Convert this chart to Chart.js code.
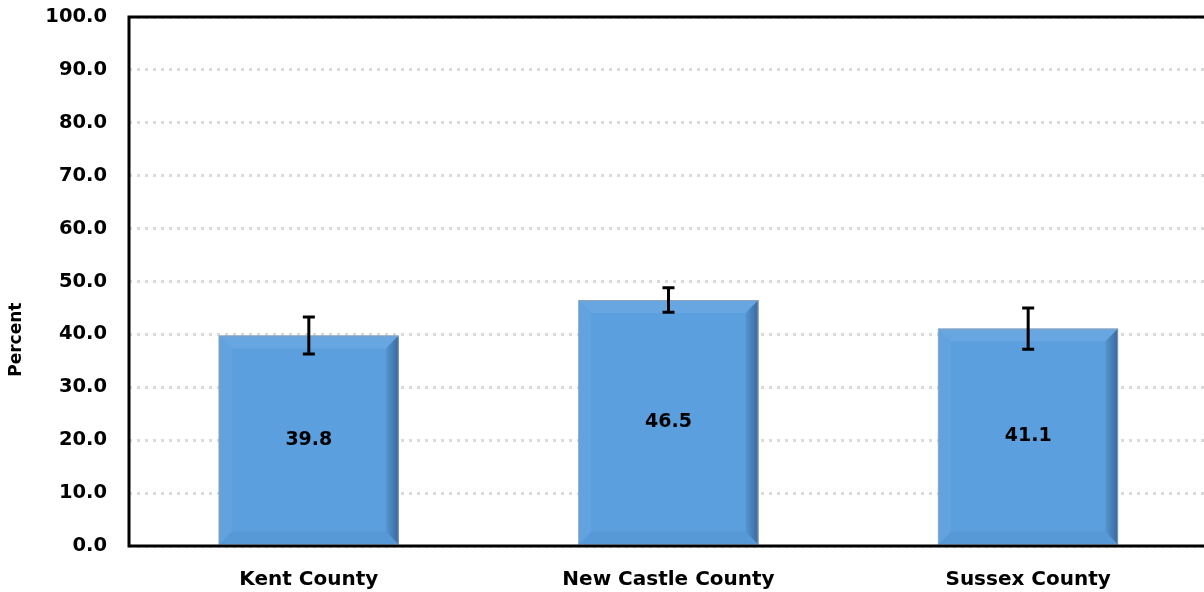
<!DOCTYPE html>
<html>
<head>
<meta charset="utf-8">
<script src="https://cdn.jsdelivr.net/npm/chart.js@4.4.1/dist/chart.umd.min.js"></script>
<style>
  html, body { margin: 0; padding: 0; background: #fff; overflow: hidden; }
  #wrap { width: 1212px; height: 592px; }
</style>
</head>
<body>
<div id="wrap"><canvas id="chart"></canvas></div>
<script>
var counties = ['Kent County', 'New Castle County', 'Sussex County'];
var percent = [39.8, 46.5, 41.1];
var ciLow = [36.3, 44.2, 37.2];
var ciHigh = [43.3, 48.8, 45.0];
var yTicks = [0, 10, 20, 30, 40, 50, 60, 70, 80, 90, 100];
var yTitle = 'Percent';

var FONT = '"DejaVu Sans", sans-serif';

// bevelled look on each bar
var bevelPlugin = {
  id: 'bevel',
  afterDatasetsDraw: function(chart) {
    var ctx = chart.ctx;
    chart.getDatasetMeta(0).data.forEach(function(bar) {
      var l = bar.x - bar.width / 2, r = bar.x + bar.width / 2;
      var t = bar.y, b = bar.base, e = 13;
      ctx.save();
      ctx.fillStyle = 'rgba(255,255,255,0.08)';
      ctx.beginPath();
      ctx.moveTo(l, t); ctx.lineTo(r, t); ctx.lineTo(r - e, t + e); ctx.lineTo(l + e, t + e); ctx.closePath(); ctx.fill();
      ctx.fillStyle = 'rgba(255,255,255,0.04)';
      ctx.beginPath();
      ctx.moveTo(l, t); ctx.lineTo(l + e, t + e); ctx.lineTo(l + e, b - e); ctx.lineTo(l, b); ctx.closePath(); ctx.fill();
      var g = ctx.createLinearGradient(r - e, 0, r, 0);
      g.addColorStop(0, 'rgba(20,50,90,0.08)');
      g.addColorStop(1, 'rgba(20,50,90,0.5)');
      ctx.fillStyle = g;
      ctx.beginPath();
      ctx.moveTo(r, t); ctx.lineTo(r, b); ctx.lineTo(r - e, b - e); ctx.lineTo(r - e, t + e); ctx.closePath(); ctx.fill();
      ctx.fillStyle = 'rgba(20,50,90,0.05)';
      ctx.beginPath();
      ctx.moveTo(l, b); ctx.lineTo(r, b); ctx.lineTo(r - e, b - e); ctx.lineTo(l + e, b - e); ctx.closePath(); ctx.fill();
      ctx.strokeStyle = 'rgba(150,160,175,0.8)';
      ctx.lineWidth = 1;
      ctx.beginPath();
      ctx.moveTo(l, b); ctx.lineTo(l, t + 0.5); ctx.lineTo(r - 0.5, t + 0.5); ctx.lineTo(r - 0.5, b);
      ctx.stroke();
      ctx.restore();
    });
  }
};

// error bars, value labels, frame and axis title
var extrasPlugin = {
  id: 'extras',
  afterDatasetsDraw: function(chart) {
    var ctx = chart.ctx, y = chart.scales.y;
    var meta = chart.getDatasetMeta(0);
    ctx.save();
    meta.data.forEach(function(bar, i) {
      var yl = y.getPixelForValue(ciLow[i]), yh = y.getPixelForValue(ciHigh[i]);
      ctx.strokeStyle = '#000';
      ctx.lineWidth = 3;
      ctx.beginPath();
      ctx.moveTo(bar.x, yl); ctx.lineTo(bar.x, yh);
      ctx.moveTo(bar.x - 6, yl); ctx.lineTo(bar.x + 6, yl);
      ctx.moveTo(bar.x - 6, yh); ctx.lineTo(bar.x + 6, yh);
      ctx.stroke();
      ctx.fillStyle = '#000';
      ctx.font = 'bold 19px ' + FONT;
      ctx.textAlign = 'center';
      ctx.textBaseline = 'middle';
      ctx.fillText(percent[i].toFixed(1), bar.x, (bar.y + bar.base) / 2);
    });
    ctx.restore();
  },
  afterDraw: function(chart) {
    var a = chart.chartArea, ctx = chart.ctx;
    ctx.save();
    ctx.strokeStyle = '#000';
    ctx.lineWidth = 3;
    ctx.beginPath();
    ctx.moveTo(a.right + 5, a.top); ctx.lineTo(a.left, a.top);
    ctx.lineTo(a.left, a.bottom); ctx.lineTo(a.right + 5, a.bottom);
    ctx.stroke();
    // rotated y title, sits a bit below the plot centre like the original
    ctx.translate(17, a.top + (a.bottom - a.top) * 0.61);
    ctx.rotate(-Math.PI / 2);
    ctx.fillStyle = '#000';
    ctx.font = 'bold 17px ' + FONT;
    ctx.textAlign = 'center';
    ctx.textBaseline = 'middle';
    ctx.fillText(yTitle, 0, 0);
    ctx.restore();
  }
};

new Chart(document.getElementById('chart').getContext('2d'), {
  type: 'bar',
  data: {
    labels: counties,
    datasets: [{
      data: percent,
      backgroundColor: '#5b9fde',
      borderWidth: 0,
      categoryPercentage: 1,
      barPercentage: 0.5
    }]
  },
  options: {
    responsive: true,
    maintainAspectRatio: false,
    animation: false,
    layout: { padding: { top: 17, right: 4, left: 0, bottom: 0 } },
    plugins: { legend: { display: false }, tooltip: { enabled: false } },
    scales: {
      x: {
        grid: { display: false },
        border: { display: false },
        ticks: { color: '#000', padding: 14, font: { family: FONT, size: 20, weight: 'bold' } },
        afterFit: function(s) { s.height = 46; s.paddingLeft = 0; s.paddingRight = 0; }
      },
      y: {
        min: 0,
        max: 100,
        afterBuildTicks: function(s) { s.ticks = yTicks.map(function(v) { return { value: v }; }); },
        grid: { color: '#d9d9d9', lineWidth: 3, drawTicks: false },
        border: { display: false, dash: [3, 5] },
        ticks: {
          color: '#000',
          padding: 22,
          font: { family: FONT, size: 19.5, weight: 'bold' },
          callback: function(v) { return Number(v).toFixed(1); }
        },
        afterFit: function(s) { s.width = 129; s.paddingTop = 0; s.paddingBottom = 0; }
      }
    }
  },
  plugins: [bevelPlugin, extrasPlugin]
});
</script>
</body>
</html>
